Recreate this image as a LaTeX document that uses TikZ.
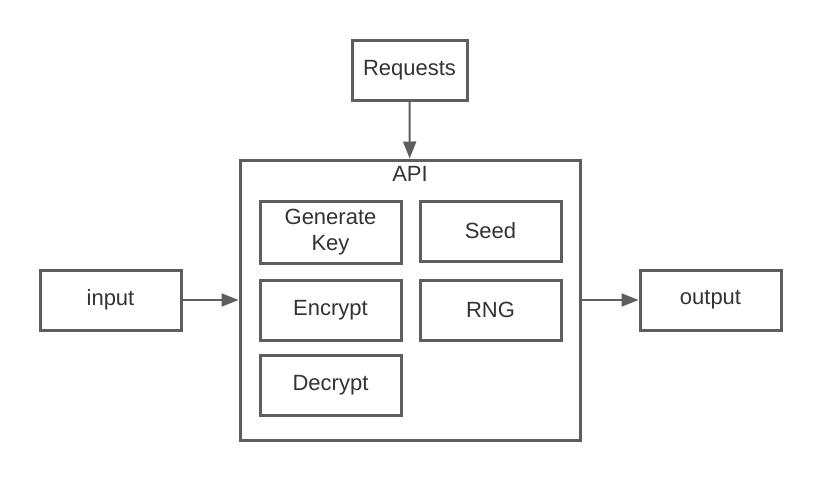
\documentclass[tikz,border=0pt]{standalone}
\usepackage{fontspec}
\setmainfont{Liberation Sans}
\usetikzlibrary{arrows.meta,positioning}

\definecolor{linegray}{HTML}{5E5E5E}
\definecolor{textgray}{HTML}{333333}

\tikzset{
  block/.style={draw=linegray, line width=3pt, fill=white, text=textgray,
    minimum width=141pt, minimum height=60pt, inner sep=3pt, align=center,
    font=\fontsize{22}{26}\selectfont},
  flow/.style={draw=linegray, line width=2pt, -{Triangle[length=17pt,width=13pt]}}
}

\begin{document}
\begin{tikzpicture}[x=1pt, y=-1pt]
  \useasboundingbox (0,0) rectangle (820,480);
  % outer boxes
  \node[block, minimum width=115pt] (requests) at (409.5,70) {Requests};
  \node[block, minimum width=340pt, minimum height=280pt,
        label={[anchor=base, yshift=-23pt, text=textgray,
                font=\fontsize{22}{26}\selectfont]north:API}] (api) at (410,300) {};
  \node[block] (input) at (110.5,300) {input};
  \node[block] (output) at (710.5,300) {output};
  % inside the API
  \node[block, minimum height=62pt] (genkey) at (330.5,232.5) {Generate\\Key};
  \node[block] (seed) at (490.5,231) {Seed};
  \node[block] (encrypt) at (330.5,310) {Encrypt};
  \node[block] (rng) at (490.5,310) {RNG};
  \node[block] (decrypt) at (330.5,385) {Decrypt};
  % connectors
  \draw[flow] (requests) -- (api);
  \draw[flow] (input) -- (api);
  \draw[flow] (api) -- (output);
\end{tikzpicture}
\end{document}
